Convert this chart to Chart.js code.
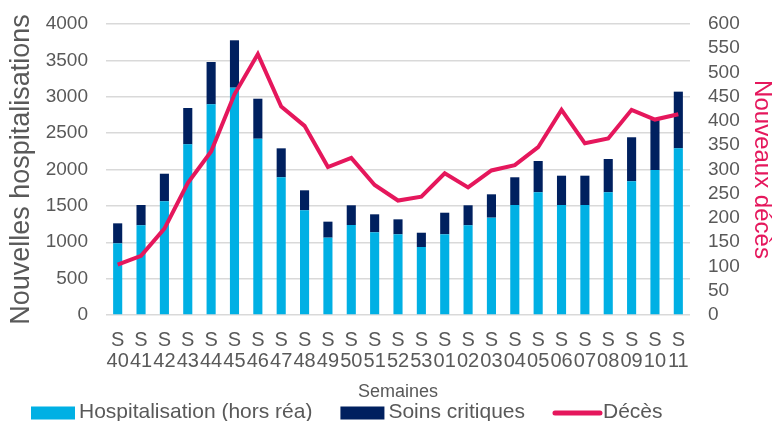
<!DOCTYPE html>
<html>
<head>
<meta charset="utf-8">
<script src="https://cdn.jsdelivr.net/npm/chart.js@4"></script>
<style>
  html, body { margin: 0; padding: 0; background: #fff; }
  #wrap { width: 776px; height: 421px; }
</style>
</head>
<body>
<div id="wrap"><canvas id="hospChart" width="776" height="421"></canvas></div>
<script>
var weeks = ['40','41','42','43','44','45','46','47','48','49','50','51','52','53',
             '01','02','03','04','05','06','07','08','09','10','11'];
var hospitalisations = [985,1233,1563,2346,2896,3125,2423,1893,1439,1063,1237,1137,1109,935,
                        1109,1233,1338,1512,1687,1512,1512,1687,1838,1993,2291];
var soinsCritiques = [275,279,379,499,582,651,550,398,275,220,271,247,206,196,
                      297,275,321,381,430,403,403,457,605,687,779];
var deces = [104,122,178,272,337,455,538,430,390,305,324,268,236,244,
             292,263,298,309,346,423,354,364,423,403,414];

var grey = '#595959';
var pink = '#e5175c';
var fontFamily = '"Liberation Sans", Arial, sans-serif';
Chart.defaults.font.family = fontFamily;
Chart.defaults.color = grey;

// legend drawn by hand: box / line then text, packed from the left like the original
var bottomLegend = {
    id: 'bottomLegend',
    afterDraw: function (chart) {
        var ctx = chart.ctx;
        var y = chart.height - 8;
        var x = 31;
        ctx.save();
        ctx.font = '21px ' + fontFamily;
        ctx.textBaseline = 'alphabetic';
        chart.data.datasets.forEach(function (ds) {
            if (ds.type === 'line') {
                ctx.strokeStyle = ds.borderColor;
                ctx.lineWidth = 5;
                ctx.lineCap = 'round';
                ctx.beginPath();
                ctx.moveTo(x + 2, y);
                ctx.lineTo(x + 47, y);
                ctx.stroke();
                x += 50;
            } else {
                ctx.fillStyle = ds.backgroundColor;
                ctx.fillRect(x, y - 6.5, 44, 13);
                x += 48;
            }
            ctx.fillStyle = grey;
            ctx.fillText(ds.label, x, y + 5);
            x += ctx.measureText(ds.label).width + 28;
        });
        ctx.restore();
    }
};

function plainNumber(v) { return String(v); }

// fixed axis widths; drop the extra top padding that tick padding adds
function fitLeft(s) { s.width = 106; s.paddingTop = 0; }
function fitRight(s) { s.width = 86; s.paddingTop = 0; }

function createHospChart() {
    var ctx = document.getElementById('hospChart').getContext('2d');
    return new Chart(ctx, {
        type: 'bar',
        data: {
            labels: weeks.map(function (w) { return ['S', w]; }),
            datasets: [{
                label: 'Hospitalisation (hors réa)',
                data: hospitalisations,
                backgroundColor: '#00b0e4',
                borderWidth: 0,
                barPercentage: 0.39,
                categoryPercentage: 1,
                yAxisID: 'y'
            }, {
                label: 'Soins critiques',
                data: soinsCritiques,
                backgroundColor: '#00205f',
                borderWidth: 0,
                barPercentage: 0.39,
                categoryPercentage: 1,
                yAxisID: 'y'
            }, {
                type: 'line',
                label: 'Décès',
                data: deces,
                borderColor: pink,
                backgroundColor: pink,
                borderWidth: 4,
                pointRadius: 0,
                tension: 0,
                order: -1,
                yAxisID: 'y1'
            }]
        },
        options: {
            responsive: false,
            animation: false,
            layout: { padding: { top: 24, left: 0, right: 0, bottom: 18 } },
            plugins: {
                tooltip: { enabled: false },
                legend: { display: false }
            },
            scales: {
                x: {
                    stacked: true,
                    grid: { display: false, drawTicks: false },
                    border: { display: false },
                    ticks: {
                        autoSkip: false,
                        maxRotation: 0,
                        minRotation: 0,
                        padding: 15,
                        color: grey,
                        font: { size: 20, lineHeight: 1.05 }
                    },
                    title: {
                        display: true,
                        text: 'Semaines',
                        color: grey,
                        font: { size: 18 },
                        padding: { top: 0, bottom: 0 }
                    },
                    afterFit: function (s) { s.height = 88; }
                },
                y: {
                    stacked: true,
                    position: 'left',
                    min: 0,
                    max: 4000,
                    grid: { color: '#d9d9d9', lineWidth: 1.5, drawTicks: false },
                    border: { display: false },
                    ticks: { stepSize: 500, padding: 18, color: grey, font: { size: 19 }, callback: plainNumber },
                    title: {
                        display: true,
                        text: 'Nouvelles hospitalisations',
                        color: grey,
                        font: { size: 27 },
                        padding: { top: 5, bottom: 0 }
                    },
                    afterFit: fitLeft
                },
                y1: {
                    position: 'right',
                    min: 0,
                    max: 600,
                    grid: { display: false, drawTicks: false },
                    border: { display: false },
                    ticks: { stepSize: 50, autoSkip: false, padding: 18, color: grey, font: { size: 19 }, callback: plainNumber },
                    title: {
                        display: true,
                        text: 'Nouveaux décès',
                        color: pink,
                        font: { size: 24 },
                        padding: { top: 0, bottom: 0 }
                    },
                    afterFit: fitRight
                }
            }
        },
        plugins: [bottomLegend]
    });
}

createHospChart();
</script>
</body>
</html>
